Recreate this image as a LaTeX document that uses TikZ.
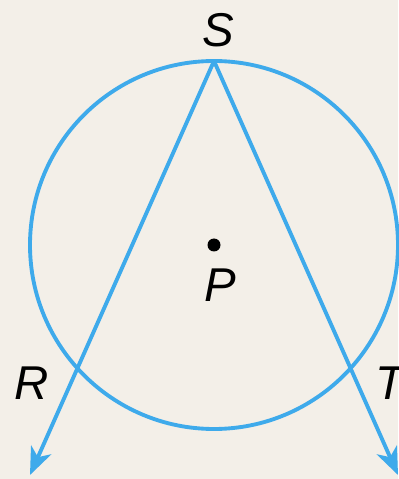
\documentclass[tikz,border=0pt]{standalone}
\usepackage{fontspec}
\setmainfont{Liberation Sans}
\usetikzlibrary{arrows.meta}
\definecolor{circleblue}{RGB}{62,170,235}
\definecolor{paper}{RGB}{243,239,232}

\begin{document}
\begin{tikzpicture}[
    line/.style={draw=circleblue, line width=2.2pt},
    ray/.style={line, -{Stealth[length=5.5mm, width=4.4mm, inset=1.6mm]}},
    lbl/.style={font=\fontsize{27}{27}\selectfont\itshape, text=black, inner sep=0pt}
]
    % Paper background, it also fixes the size of the page
    \fill[paper] (0,0) rectangle (7.96,9.58);
    \useasboundingbox (0,0) rectangle (7.96,9.58);

    % Draw the main circle around the centre P
    \node[circle, fill=black, inner sep=0pt, minimum size=2.6mm] (P) at (4.28,4.68) {};
    \draw[line] (P) circle (3.68cm);

    % S sits on top of the circle, the two rays run down through R and T
    \coordinate (S) at (4.28,8.36);
    \coordinate (Rend) at (0.60,0.08);
    \coordinate (Tend) at (7.96,0.08);
    \draw[ray] (S) -- (Rend);
    \draw[ray] (S) -- (Tend);

    % Labels
    \node[lbl] (Slabel) at (4.36,8.98) {S};
    \node[lbl] (Plabel) at (4.40,3.88) {P};
    \node[lbl] (Rlabel) at (0.64,1.92) {R};
    \node[lbl] (Tlabel) at (7.80,1.92) {T};
\end{tikzpicture}
\end{document}
